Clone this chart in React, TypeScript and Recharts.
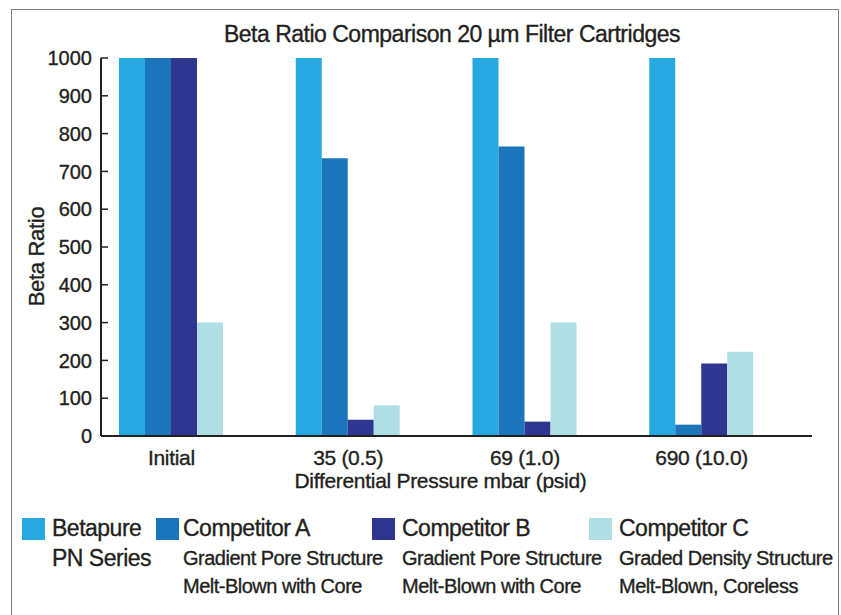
import { BarChart, Bar, XAxis, YAxis } from "recharts";

const categories = ["Initial", "35 (0.5)", "69 (1.0)", "690 (10.0)"];
const betapure = [1000, 1000, 1000, 1000];
const competitorA = [1000, 735, 766, 30];
const competitorB = [1000, 43, 38, 192];
const competitorC = [300, 81, 300, 223];
const yTicks = [0, 100, 200, 300, 400, 500, 600, 700, 800, 900, 1000];

const seriesKeys = ["betapure", "competitorA", "competitorB", "competitorC"];
const seriesTitles = [["Betapure", "PN Series"], ["Competitor A"], ["Competitor B"], ["Competitor C"]];
const seriesNotes = [
  [],
  ["Gradient Pore Structure", "Melt-Blown with Core"],
  ["Gradient Pore Structure", "Melt-Blown with Core"],
  ["Graded Density Structure", "Melt-Blown, Coreless"],
];
const seriesColors = ["#25a9e0", "#1b75bb", "#2e368f", "#afdfe4"];

const data = categories.map((category, i) => ({
  category,
  betapure: betapure[i],
  competitorA: competitorA[i],
  competitorB: competitorB[i],
  competitorC: competitorC[i],
}));

const INK = "#231f20";
const FONT = '"Liberation Sans", Arial, sans-serif';
// the source uses a heavier condensed face; a thin stroke thickens Liberation a little
const svgInk = { fill: INK, stroke: INK, strokeWidth: 0.35 };
const htmlInk = { color: INK, WebkitTextStroke: `0.35px ${INK}` };

function XTitle(props: any) {
  const { viewBox } = props;
  return (
    <text
      x={viewBox.x + viewBox.width / 2 - 16}
      y={viewBox.y + 52}
      textAnchor="middle"
      {...svgInk}
      fontSize={21}
      letterSpacing={-0.3}
      fontFamily={FONT}
    >
      Differential Pressure mbar (psid)
    </text>
  );
}

function YTitle(props: any) {
  const { viewBox } = props;
  const x = viewBox.x + 3;
  const y = viewBox.y + viewBox.height / 2 + 9.5;
  return (
    <text
      x={x}
      y={y}
      transform={`rotate(-90, ${x}, ${y})`}
      textAnchor="middle"
      {...svgInk}
      fontSize={22}
      letterSpacing={-0.3}
      fontFamily={FONT}
    >
      Beta Ratio
    </text>
  );
}

function ChartLegend() {
  const widths = [134, 216, 217, 240];
  const gaps = [7, 4, 7, 7];
  return (
    <div
      style={{
        position: "absolute",
        left: 22,
        top: 514,
        display: "flex",
        fontFamily: FONT,
        ...htmlInk,
      }}
    >
      {seriesKeys.map((k, i) => (
        <div key={k} style={{ width: widths[i], display: "flex", flexShrink: 0 }}>
          <div
            style={{
              width: 23,
              height: 22,
              background: seriesColors[i],
              marginTop: 3.5,
              marginRight: gaps[i],
              flexShrink: 0,
            }}
          />
          <div>
            {seriesTitles[i].map((t) => (
              <div
                key={t}
                style={{ fontSize: 23, lineHeight: "29.5px", letterSpacing: -0.5, whiteSpace: "nowrap" }}
              >
                {t}
              </div>
            ))}
            {seriesNotes[i].map((t) => (
              <div
                key={t}
                style={{ fontSize: 20, lineHeight: "28.4px", letterSpacing: -0.5, whiteSpace: "nowrap" }}
              >
                {t}
              </div>
            ))}
          </div>
        </div>
      ))}
    </div>
  );
}

export default function App() {
  return (
    <div
      style={{
        position: "absolute",
        left: 0,
        top: 0,
        width: 841,
        height: 615,
        background: "#fff",
        overflow: "hidden",
      }}
    >
      <div
        style={{
          position: "absolute",
          left: 11,
          top: 9,
          width: 826,
          height: 660,
          border: "1px solid #7f7f7f",
        }}
      />
      <div
        style={{
          position: "absolute",
          left: 92,
          top: 23,
          width: 720,
          textAlign: "center",
          fontFamily: FONT,
          fontSize: 23,
          lineHeight: "23px",
          letterSpacing: -0.5,
          whiteSpace: "nowrap",
          ...htmlInk,
        }}
      >
        Beta Ratio Comparison 20 µm Filter Cartridges
      </div>
      <BarChart
        width={841}
        height={615}
        data={data}
        margin={{ top: 58, right: 29, bottom: 123, left: 41 }}
        barGap={0}
        barSize={26}
      >
        {seriesKeys.map((k, i) => (
          <Bar key={k} dataKey={k} fill={seriesColors[i]} isAnimationActive={false} />
        ))}
        <XAxis
          xAxisId="top"
          orientation="top"
          dataKey="category"
          height={0}
          tick={false}
          tickLine={false}
          axisLine={{ stroke: INK, strokeWidth: 2 }}
        />
        <YAxis
          yAxisId="right"
          orientation="right"
          width={0}
          domain={[0, 1000]}
          tick={false}
          tickLine={false}
          axisLine={{ stroke: INK, strokeWidth: 2 }}
        />
        <XAxis
          dataKey="category"
          height={56}
          padding={{ left: -18, right: 22 }}
          interval={0}
          tickLine={false}
          tickSize={0}
          tickMargin={14}
          axisLine={{ stroke: INK, strokeWidth: 2 }}
          tick={{ ...svgInk, fontSize: 21, fontFamily: FONT, letterSpacing: -0.3 }}
          label={{ content: XTitle }}
        />
        <YAxis
          domain={[0, 1000]}
          ticks={yTicks}
          interval={0}
          width={60}
          tickSize={-7}
          tickMargin={16}
          tickLine={{ stroke: INK, strokeWidth: 1.5 }}
          axisLine={{ stroke: INK, strokeWidth: 2 }}
          tick={{ ...svgInk, fontSize: 20, fontFamily: FONT }}
          label={{ content: YTitle }}
        />
      </BarChart>
      <ChartLegend />
    </div>
  );
}
